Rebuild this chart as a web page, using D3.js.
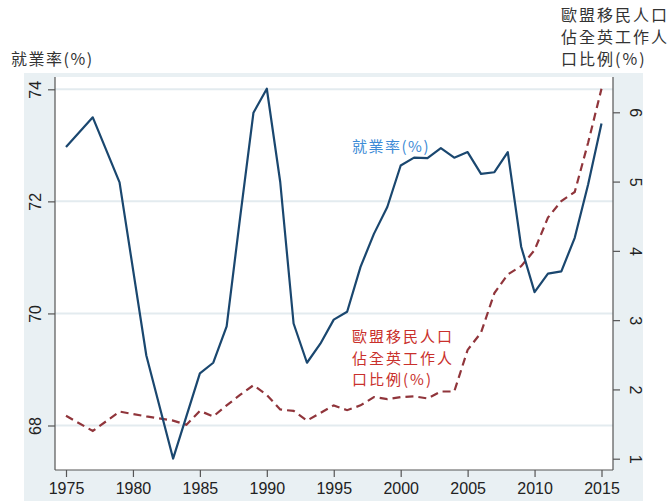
<!DOCTYPE html>
<html>
<head>
<meta charset="utf-8">
<script src="https://cdn.jsdelivr.net/npm/d3@7"></script>
<style>
  body { margin: 0; background: #fff; }
  svg { display: block; }
  .tick text { font-family: "Liberation Sans", Arial, sans-serif; }
</style>
</head>
<body>
<script>
// 數據
const years = [1975, 1977, 1979, 1981, 1983, 1984, 1985, 1986, 1987, 1988, 1989, 1990,
  1991, 1992, 1993, 1994, 1995, 1996, 1997, 1998, 1999, 2000, 2001, 2002, 2003,
  2004, 2005, 2006, 2007, 2008, 2009, 2010, 2011, 2012, 2013, 2014, 2015];
// 就業率 (%) – 左軸
const employment = [72.97, 73.50, 72.34, 69.25, 67.41, null, 68.93, 69.12, 69.77, 71.70, 73.58, 74.01,
  72.35, 69.82, 69.12, 69.46, 69.89, 70.03, 70.83, 71.42, 71.90, 72.64, 72.78, 72.77, 72.95,
  72.78, 72.88, 72.49, 72.52, 72.88, 71.19, 70.38, 70.71, 70.75, 71.35, 72.30, 73.39];
// 歐盟移民人口佔全英工作人口比例 (%) – 右軸
const euShare = [1.62, 1.40, 1.68, 1.61, 1.55, 1.49, 1.69, 1.61, 1.77, 1.92, 2.06, 1.92,
  1.71, 1.69, 1.55, 1.66, 1.77, 1.70, 1.77, 1.89, 1.86, 1.89, 1.90, 1.87, 1.97,
  1.97, 2.57, 2.82, 3.39, 3.66, 3.78, 4.01, 4.48, 4.72, 4.85, 5.56, 6.34];

const xTicks = [1975, 1980, 1985, 1990, 1995, 2000, 2005, 2010, 2015];
const leftTicks = [68, 70, 72, 74];
const rightTicks = [1, 2, 3, 4, 5, 6];
const leftTitle = "就業率(%)";
const rightTitle = ["歐盟移民人口", "佔全英工作人", "口比例(%)"];
const empLabel = "就業率(%)";
const euLabel = ["歐盟移民人口", "佔全英工作人", "口比例(%)"];

const W = 672, H = 501;
const plot = { left: 55, right: 613, top: 77, bottom: 470 };
const navy = "#1a476f", maroon = "#90353b";
const axisCol = "#555";
const cjk = "'Noto Sans CJK TC', 'Noto Sans CJK SC', sans-serif";
const fmt = d3.format("d");

const svg = d3.select("body").append("svg")
  .attr("width", W)
  .attr("height", H);

// 背景
svg.append("rect").attr("x", 24).attr("y", 73).attr("width", 619).attr("height", H - 73)
  .attr("fill", "#e9f0f3");
svg.append("rect").attr("x", plot.left).attr("y", plot.top)
  .attr("width", plot.right - plot.left).attr("height", plot.bottom - plot.top)
  .attr("fill", "#fff");

// 比例尺
const x = d3.scaleLinear().domain([1975, 2015]).range([66, 601.5]);
const yL = d3.scaleLinear().domain([68, 74]).range([425.5, 89.3]);
const yR = d3.scaleLinear().domain([1, 6]).range([458.7, 112.3]);

// 格線
svg.append("g").selectAll("line")
  .data(leftTicks)
  .join("line")
  .attr("x1", plot.left).attr("x2", plot.right)
  .attr("y1", d => yL(d)).attr("y2", d => yL(d))
  .attr("stroke", "#e3ebef")
  .attr("stroke-width", 2);

// X 軸
const xAxis = svg.append("g")
  .attr("transform", `translate(0,${plot.bottom})`)
  .call(d3.axisBottom(x).tickValues(xTicks).tickFormat(fmt).tickSize(7).tickSizeOuter(0));
xAxis.select(".domain").attr("d", `M${plot.left},0H${plot.right}`);

// 左軸
const lAxis = svg.append("g")
  .attr("transform", `translate(${plot.left},0)`)
  .call(d3.axisLeft(yL).tickValues(leftTicks).tickFormat(fmt).tickSize(7).tickSizeOuter(0));
lAxis.select(".domain").attr("d", `M0,${plot.top}V${plot.bottom}`);
lAxis.selectAll(".tick text")
  .attr("x", 0).attr("dy", 0)
  .attr("text-anchor", "middle")
  .attr("transform", "translate(-20,0) rotate(-90)")
  .attr("dominant-baseline", "central");

// 右軸
const rAxis = svg.append("g")
  .attr("transform", `translate(${plot.right},0)`)
  .call(d3.axisRight(yR).tickValues(rightTicks).tickFormat(fmt).tickSize(7).tickSizeOuter(0));
rAxis.select(".domain").attr("d", `M0,${plot.top}V${plot.bottom}`);
rAxis.selectAll(".tick text")
  .attr("x", 0).attr("dy", 0)
  .attr("text-anchor", "middle")
  .attr("transform", "translate(22,0) rotate(90)")
  .attr("dominant-baseline", "central");

svg.selectAll(".domain, .tick line").attr("stroke", axisCol).attr("stroke-width", 1.2);
svg.selectAll(".tick text")
  .attr("fill", "#222")
  .style("font-size", "16px");
xAxis.selectAll(".tick text").attr("dy", "1.05em").attr("y", 7);

// 線
const empPts = years.map((yr, i) => ({ yr, v: employment[i] })).filter(d => d.v != null);
const euPts = years.map((yr, i) => ({ yr, v: euShare[i] })).filter(d => d.v != null);

svg.append("path")
  .datum(euPts)
  .attr("fill", "none")
  .attr("stroke", maroon)
  .attr("stroke-width", 2.2)
  .attr("stroke-dasharray", "8,5")
  .attr("d", d3.line().x(d => x(d.yr)).y(d => yR(d.v)));

svg.append("path")
  .datum(empPts)
  .attr("fill", "none")
  .attr("stroke", navy)
  .attr("stroke-width", 2.2)
  .attr("stroke-linejoin", "round")
  .attr("d", d3.line().x(d => x(d.yr)).y(d => yL(d.v)));

// 標題
svg.append("text")
  .attr("x", 11).attr("y", 65)
  .style("font-family", cjk).style("font-size", "16px")
  .style("letter-spacing", "1.5px")
  .attr("fill", "#333")
  .text(leftTitle);

svg.append("g").selectAll("text")
  .data(rightTitle)
  .join("text")
  .attr("x", 561).attr("y", (d, i) => 21 + i * 22)
  .style("font-family", cjk).style("font-size", "16px")
  .style("letter-spacing", "2px")
  .attr("fill", "#333")
  .text(d => d);

// 線標籤
svg.append("text")
  .attr("x", 352).attr("y", 152)
  .style("font-family", cjk).style("font-size", "15px")
  .style("letter-spacing", "1.5px")
  .attr("fill", "#3d8bd6")
  .text(empLabel);

svg.append("g").selectAll("text")
  .data(euLabel)
  .join("text")
  .attr("x", 352).attr("y", (d, i) => 342 + i * 21.5)
  .style("font-family", cjk).style("font-size", "15px")
  .style("letter-spacing", "2px")
  .attr("fill", "#c9302c")
  .text(d => d);
</script>
</body>
</html>
